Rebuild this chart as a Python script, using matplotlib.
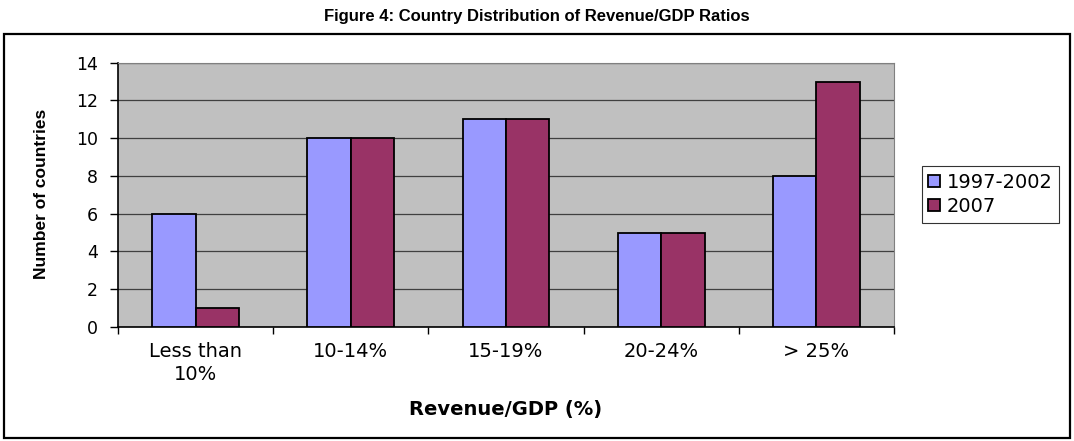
import numpy as np
import matplotlib.pyplot as plt
from matplotlib.patches import Rectangle

plt.rcParams['font.family'] = ['DejaVu Sans']

categories = ["Less than\n10%", "10-14%", "15-19%", "20-24%", "> 25%"]
series_names = ["1997-2002", "2007"]
counts_9702 = [6, 10, 11, 5, 8]
counts_2007 = [1, 10, 11, 5, 13]


def main():
    fig = plt.figure(figsize=(10.74, 4.41), dpi=100)

    # outer chart frame
    fig.patches.append(Rectangle((4 / 1074, 1 - 438 / 441), 1066 / 1074, 404 / 441,
                                 transform=fig.transFigure, fill=False,
                                 edgecolor="black", linewidth=1.6))
    fig.text(0.5, 1 - 17 / 441, "Figure 4: Country Distribution of Revenue/GDP Ratios",
             ha="center", va="center", fontsize=12, fontweight="bold",
             family="Liberation Sans")

    ax = fig.add_axes([118 / 1074, 1 - 327 / 441, 776 / 1074, 264.3 / 441])
    ax.set_facecolor("#C0C0C0")

    x = np.arange(len(categories))
    w = 0.28
    ax.bar(x - w / 2, counts_9702, w, color="#9999FF", edgecolor="black",
           linewidth=1.3, label=series_names[0], zorder=3)
    ax.bar(x + w / 2, counts_2007, w, color="#993366", edgecolor="black",
           linewidth=1.3, label=series_names[1], zorder=3)

    ax.set_xlim(-0.5, len(categories) - 0.5)
    ax.set_ylim(0, 14)
    ax.set_yticks(range(0, 15, 2))
    ax.yaxis.grid(True, color="#404040", linewidth=0.9, zorder=1)

    # category names sit between the boundary ticks
    ax.set_xticks(np.arange(-0.5, len(categories), 1.0))
    ax.set_xticklabels([])
    ax.set_xticks(x, minor=True)
    ax.set_xticklabels(categories, minor=True, fontsize=14, linespacing=1.25)
    ax.tick_params(axis="x", which="minor", length=0, pad=11)
    ax.tick_params(axis="x", which="major", length=5, width=1)
    ax.tick_params(axis="y", length=6, width=1, labelsize=12.5, pad=8.5)

    for side in ["top", "right"]:
        ax.spines[side].set_color("#808080")
    for side in ["left", "bottom"]:
        ax.spines[side].set_color("black")
        ax.spines[side].set_linewidth(1.2)

    fig.text(42 / 1074, 1 - 194 / 441, "Number of countries", rotation=90,
             ha="center", va="center", fontsize=12.5, fontweight="bold",
             family="Liberation Sans")
    fig.text(506 / 1074, 1 - 409 / 441, "Revenue/GDP (%)",
             ha="center", va="center", fontsize=14, fontweight="bold")

    leg = fig.legend(loc="center", bbox_to_anchor=(990.5 / 1074, 1 - 194.5 / 441),
                     fontsize=14, frameon=True, fancybox=False,
                     handlelength=0.6, handleheight=0.6, handletextpad=0.35,
                     borderpad=0.35, labelspacing=0.25, borderaxespad=0)
    leg.get_frame().set_edgecolor("black")
    leg.get_frame().set_linewidth(0.8)

    fig.savefig("out.png", dpi=100)


if __name__ == '__main__':
    main()
